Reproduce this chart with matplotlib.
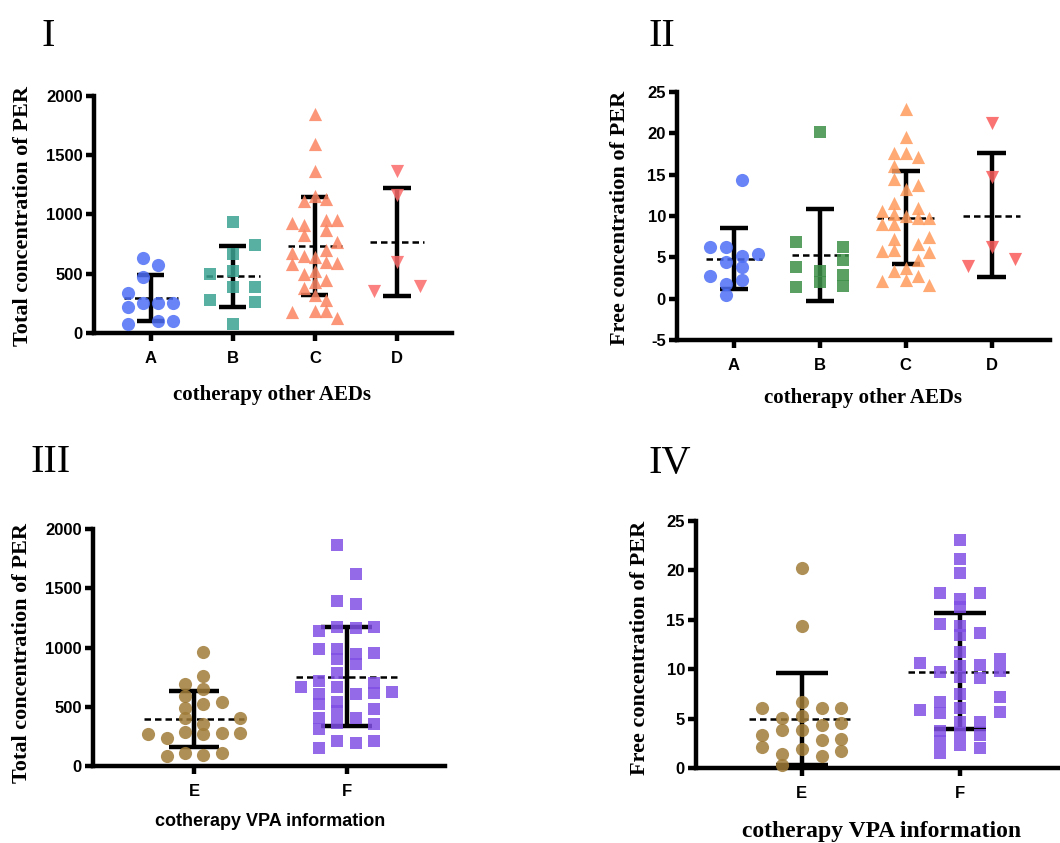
import matplotlib
matplotlib.use("Agg")
import matplotlib.pyplot as plt
import numpy as np

W, H = 1060, 843
plt.rcParams["axes.unicode_minus"] = False

# ---------------- data ----------------
# Panel I: total concentration, groups A-D
groups_aed = ["A", "B", "C", "D"]
I_A = [632, 576, 472, 337, 219, 253, 253, 253, 76, 98, 98]
I_A_slot = [-1/3, 1/3, -1/3, -1, -1, -1/3, 1/3, 1, -1, 1/3, 1]
I_B = [936, 739, 669, 500, 520, 385, 385, 275, 259, 76]
I_B_slot = [0, 1, 0, -1, 0, 0, 1, -1, 1, 0]
I_C = [1846, 1596, 1363, 1110, 1160, 1132, 927, 913, 950, 955, 829, 871, 767,
       674, 646, 697, 641, 584, 598, 590, 497, 520, 450, 379, 427, 323, 281,
       174, 188, 188, 126]
I_C_slot = [0, 0, 0, -0.5, 0, 0.5, -1, -0.5, 0.5, 1, -0.5, 0.5, 1,
            -1, -0.5, 0.5, 0, -1, 0.5, 1, -0.5, 0, 0.5, -0.5, 0, 0, 0.5,
            -1, 0, 0.5, 1]
I_D = [1363, 1166, 598, 351, 393]
I_D_slot = [0, 0, 0, -1, 1]
I_mean = [297, 478, 731, 764]
I_low = [104, 219, 318, 309]
I_high = [492, 731, 1149, 1222]

# Panel II: free concentration, groups A-D
II_A = [14.4, 6.2, 6.2, 5.2, 5.4, 4.4, 3.8, 2.8, 2.2, 1.8, 0.4]
II_A_slot = [1/3, -1, -1/3, 1/3, 1, -1/3, 1/3, -1, 1/3, -1/3, -1/3]
II_B = [20.2, 6.8, 6.2, 4.7, 3.8, 3.4, 2.9, 2.0, 1.4, 1.5]
II_B_slot = [0, -1, 1, 1, -1, 0, 1, 0, -1, 1]
II_C = [23.0, 19.6, 17.6, 17.6, 17.1, 16.0, 14.5, 13.3, 13.7, 11.6, 11.0,
        10.6, 10.3, 10.0, 9.7, 9.7, 9.0, 9.0, 7.5, 7.2, 6.6, 5.8, 5.9, 5.6,
        4.7, 3.7, 3.4, 2.7, 2.3, 2.1, 1.6]
II_C_slot = [0, 0, -0.5, 0, 0.5, -0.5, -0.5, 0, 0.5, -0.5, 0.5,
             -1, -0.5, 0, 0.5, 1, -1, -0.5, 1, -0.5, 0.5, -1, -0.5, 1,
             0.5, 0, -0.5, 0.5, 0, -1, 1]
II_D = [21.3, 14.7, 6.3, 3.9, 4.8]
II_D_slot = [0, 0, 0, -1, 1]
II_mean = [4.8, 5.3, 9.8, 10.05]
II_low = [1.2, -0.25, 4.2, 2.6]
II_high = [8.5, 10.8, 15.5, 17.65]

# Panel III: total concentration, groups E-F
groups_vpa = ["E", "F"]
III_E = [958, 763, 690, 648, 594, 544, 521, 487, 408, 403, 355,
         270, 290, 270, 276, 276, 234, 113, 93, 113, 87]
III_E_slot = [0.2, 0.2, -0.2, 0.2, -0.2, 0.6, 0.2, -0.2, -0.2, 1, 0.2,
              -1, -0.2, 0.2, 0.6, 1, -0.6, -0.2, 0.2, 0.6, -0.6]
III_F = [1868, 1623, 1394, 1369, 1141, 1177, 1163, 1172, 986, 986, 946, 952,
         904, 859, 789, 721, 699, 665, 670, 620, 622, 608, 608, 524, 544,
         465, 479, 403, 403, 366, 352, 310, 211, 197, 211, 149]
III_F_slot = [-0.2, 0.2, -0.2, 0.2, -0.6, -0.2, 0.2, 0.6, -0.6, -0.2, 0.2, 0.6,
              -0.2, 0.2, -0.2, -0.6, 0.6, -1, -0.2, 0.6, 1, -0.6, 0.2, -0.6, -0.2,
              -0.2, 0.6, -0.6, 0.2, -0.2, 0.6, -0.6, -0.2, 0.2, 0.6, -0.6]
III_mean = [397, 755]
III_low = [163, 338]
III_high = [637, 1172]

# Panel IV: free concentration, groups E-F
IV_E = [20.2, 14.4, 6.7, 6.1, 6.1, 6.1, 5.1, 5.3, 4.4, 4.6, 3.3, 3.8, 3.8,
        2.8, 2.9, 2.1, 1.9, 1.7, 1.4, 1.2, 0.3]
IV_E_slot = [0, 0, 0, -1, 0.5, 1, -0.5, 0, 0.5, 1, -1, -0.5, 0,
             0.5, 1, -1, 0, 1, -0.5, 0.5, -0.5]
IV_F = [23.1, 21.2, 19.75, 17.7, 17.7, 17.1, 16.3, 14.6, 14.4, 13.7, 13.5,
        11.7, 11.0, 10.6, 10.3, 10.4, 9.7, 9.8, 9.2, 9.1, 7.5, 7.2, 6.7, 6.1,
        5.9, 5.6, 5.7, 4.7, 4.7, 3.5, 3.3, 3.7, 2.7, 2.3, 2.0, 1.5]
IV_F_slot = [0, 0, 0, -0.5, 0.5, 0, 0, -0.5, 0, 0.5, 0,
             0, 1, -1, 0, 0.5, -0.5, 1, 0, 0.5, 0, 1, -0.5, 0,
             -1, -0.5, 1, 0, 0.5, 0, 0.5, -0.5, -0.5, 0, 0.5, -0.5]
IV_mean = [4.95, 9.76]
IV_low = [0.35, 3.97]
IV_high = [9.6, 15.7]

# ---------------- styling ----------------
SANS = "Liberation Sans"
SERIF = "Liberation Serif"
LW = 3.2

fig = plt.figure(figsize=(W / 100, H / 100), dpi=100)


def px_axes(left, right, top, bottom):
    return fig.add_axes([left / W, 1 - bottom / H, (right - left) / W, (bottom - top) / H])


def style_axes(ax, xlim, ylim, yticks, xlabels, tick_fs=12):
    ax.set_xlim(*xlim)
    ax.set_ylim(*ylim)
    for s in ["top", "right"]:
        ax.spines[s].set_visible(False)
    for s in ["left", "bottom"]:
        ax.spines[s].set_linewidth(LW)
        ax.spines[s].set_capstyle("projecting")
    ax.set_yticks(yticks)
    ax.set_xticks(range(len(xlabels)))
    ax.set_xticklabels(xlabels)
    ax.tick_params(axis="both", direction="out", length=6, width=LW, pad=2,
                   labelsize=tick_fs)
    ax.tick_params(axis="x", pad=7)
    for lab in ax.get_xticklabels() + ax.get_yticklabels():
        lab.set_fontfamily(SANS)
        lab.set_fontweight("bold")
    ax.patch.set_alpha(0)


def draw_group(ax, xc, vals, slots, spread, marker, color, ms, mean, lo, hi):
    xs = [xc + s * spread for s in slots]
    ax.vlines(xc, lo, hi, color="black", lw=LW, zorder=2)
    ax.hlines([lo, hi], xc - 0.165, xc + 0.165, color="black", lw=LW, zorder=2)
    ax.hlines(mean, xc - 0.33, xc + 0.33, color="black", lw=1.8,
              linestyles=(0, (2.6, 1.6)), zorder=2)
    ax.scatter(xs, vals, marker=marker, s=ms, color=color, alpha=0.85,
               linewidths=0, zorder=3, clip_on=False)


# ---- Panel I ----
ax1 = px_axes(94, 452, 96, 333)
style_axes(ax1, (-0.69, 3.67), (0, 2000), [0, 500, 1000, 1500, 2000], groups_aed)
spreadI = 0.275
draw_group(ax1, 0, I_A, I_A_slot, spreadI, "o", "#4d6ef5", 90, I_mean[0], I_low[0], I_high[0])
draw_group(ax1, 1, I_B, I_B_slot, spreadI, "s", "#3aa392", 75, I_mean[1], I_low[1], I_high[1])
draw_group(ax1, 2, I_C, I_C_slot, spreadI, "^", "#fb8462", 90, I_mean[2], I_low[2], I_high[2])
draw_group(ax1, 3, I_D, I_D_slot, spreadI, "v", "#fb6a6a", 90, I_mean[3], I_low[3], I_high[3])

# ---- Panel II ----
ax2 = px_axes(677, 1050, 92, 340)
style_axes(ax2, (-0.664, 3.68), (-5, 25), [-5, 0, 5, 10, 15, 20, 25], groups_aed)
draw_group(ax2, 0, II_A, II_A_slot, spreadI, "o", "#4d6ef5", 90, II_mean[0], II_low[0], II_high[0])
draw_group(ax2, 1, II_B, II_B_slot, spreadI, "s", "#3e8f48", 75, II_mean[1], II_low[1], II_high[1])
draw_group(ax2, 2, II_C, II_C_slot, spreadI, "^", "#ff9a5c", 90, II_mean[2], II_low[2], II_high[2])
draw_group(ax2, 3, II_D, II_D_slot, spreadI, "v", "#fb5c5c", 90, II_mean[3], II_low[3], II_high[3])

# ---- Panel III ----
ax3 = px_axes(93, 445, 529, 766)
style_axes(ax3, (-0.663, 1.645), (0, 2000), [0, 500, 1000, 1500, 2000], groups_vpa)
draw_group(ax3, 0, III_E, III_E_slot, 0.30, "o", "#a07c38", 90, III_mean[0], III_low[0], III_high[0])
draw_group(ax3, 1, III_F, III_F_slot, 0.30, "s", "#8150e6", 75, III_mean[1], III_low[1], III_high[1])

# ---- Panel IV ----
ax4 = px_axes(696, 1060, 521, 768)
style_axes(ax4, (-0.668, 1.632), (0, 25), [0, 5, 10, 15, 20, 25], groups_vpa)
draw_group(ax4, 0, IV_E, IV_E_slot, 0.25, "o", "#a07c38", 90, IV_mean[0], IV_low[0], IV_high[0])
draw_group(ax4, 1, IV_F, IV_F_slot, 0.25, "s", "#8150e6", 75, IV_mean[1], IV_low[1], IV_high[1])

# ---------------- texts ----------------
def ftext(x, y, s, **kw):
    fig.text(x / W, 1 - y / H, s, **kw)

panel_kw = dict(family=SERIF, fontsize=29, ha="center", va="center")
ftext(48, 37, "I", **panel_kw)
ftext(662, 37, "II", **panel_kw)
ftext(51, 463, "III", **panel_kw)
ftext(670, 463, "IV", **panel_kw)

ylab_kw = dict(family=SERIF, fontweight="bold", fontsize=16, rotation=90,
               ha="center", va="center")
ftext(23, 216, "Total concentration of PER", **ylab_kw)
ftext(620, 218, "Free concentration of PER", **ylab_kw)
ftext(22, 653, "Total concentration of PER", **ylab_kw)
ftext(640, 648, "Free concentration of PER", **ylab_kw)

xlab_kw = dict(family=SERIF, fontweight="bold", fontsize=15, ha="center", va="center")
ftext(272, 395, "cotherapy other AEDs", **xlab_kw)
ftext(863, 398, "cotherapy other AEDs", **xlab_kw)
ftext(270, 821, "cotherapy VPA information", family=SANS, fontweight="bold",
      fontsize=13, ha="center", va="center")
ftext(882, 832, "cotherapy VPA information", family=SERIF, fontweight="bold",
      fontsize=17, ha="center", va="center")

fig.savefig("out.png", dpi=100)
